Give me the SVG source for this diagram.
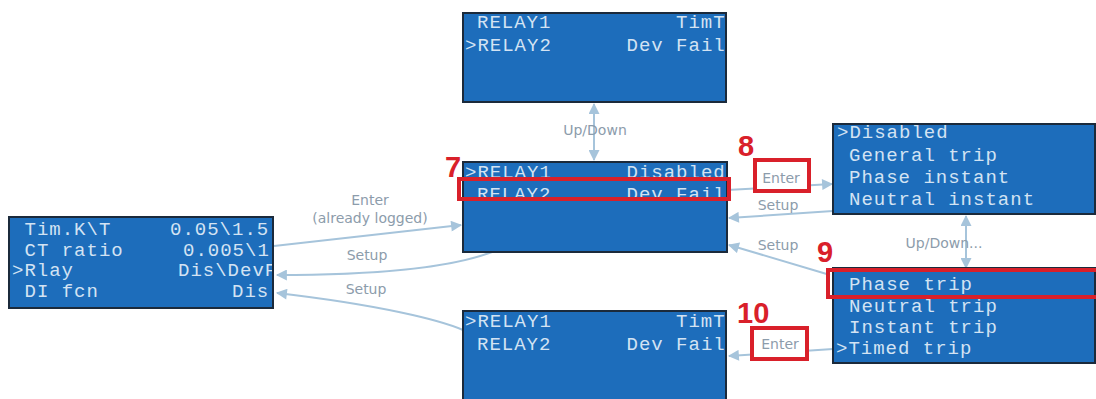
<svg xmlns="http://www.w3.org/2000/svg" width="1096" height="399" viewBox="0 0 1096 399">
<style>
.bx{fill:#1d6dbb}
.bd{fill:none;stroke:#1b2a3b;stroke-width:2}
.lcd{font-family:"Liberation Mono","DejaVu Sans Mono",monospace;font-size:19px;letter-spacing:1px;fill:#d3e3f3}
.cn{fill:none;stroke:#a6c4db;stroke-width:2}
.lb{font-family:"DejaVu Sans","Liberation Sans",sans-serif;font-size:14px;fill:#8c9cab;text-anchor:middle}
.red{fill:#fff;stroke:#d9202a;stroke-width:4}
.redt{fill:none;stroke:#d9202a;stroke-width:4}
.num{font-family:"Liberation Sans",Arial,sans-serif;font-weight:bold;font-size:29px;fill:#d9202a}
</style>
<defs>
<marker id="ah" viewBox="0 0 10 10" refX="9" refY="5" markerWidth="12" markerHeight="11" markerUnits="userSpaceOnUse" orient="auto-start-reverse">
<path d="M0,0 L10,5 L0,10 z" fill="#a6c4db"/>
</marker>
<clipPath id="cL"><rect x="9" y="217" width="264" height="91"/></clipPath>
<clipPath id="cT"><rect x="463" y="13" width="263" height="89"/></clipPath>
<clipPath id="cM"><rect x="463" y="162" width="264" height="90"/></clipPath>
<clipPath id="cB"><rect x="463" y="311" width="263" height="90"/></clipPath>
<clipPath id="cR1"><rect x="833" y="124" width="262" height="90"/></clipPath>
<clipPath id="cR2"><rect x="833" y="268" width="262" height="95"/></clipPath>
</defs>
<rect width="1096" height="399" fill="#fff"/>

<g id="connectors">
<path class="cn" d="M274 246 L461 225" marker-end="url(#ah)"/>
<path class="cn" d="M492 252 C450 268 380 275 277 275" marker-end="url(#ah)"/>
<path class="cn" d="M463 330 C440 320 380 305 277 293" marker-end="url(#ah)"/>
<path class="cn" d="M594 104 L594 160" marker-start="url(#ah)" marker-end="url(#ah)"/>
<path class="cn" d="M727 190 L832 184" marker-end="url(#ah)"/>
<path class="cn" d="M833 211 L729 218" marker-end="url(#ah)"/>
<path class="cn" d="M830 275 L729 245" marker-end="url(#ah)"/>
<path class="cn" d="M966 216 L966 268" marker-start="url(#ah)" marker-end="url(#ah)"/>
<path class="cn" d="M833 349 L729 356" marker-end="url(#ah)"/>
<text class="lb" x="370" y="205">Enter</text>
<text class="lb" x="370" y="223">(already logged)</text>
<text class="lb" x="367" y="260">Setup</text>
<text class="lb" x="366" y="294">Setup</text>
<text class="lb" x="595" y="135">Up/Down</text>
<text class="lb" x="778" y="210">Setup</text>
<text class="lb" x="778" y="250">Setup</text>
<text class="lb" x="944" y="248">Up/Down...</text>
</g>

<g id="node-left">
<rect class="bx" x="9" y="217" width="264" height="91"/>
<g clip-path="url(#cL)" class="lcd">
<text x="24.5" y="235">Tim.K\T</text><text x="170" y="235">0.05\1.5</text>
<text x="24.5" y="255.5">CT ratio</text><text x="183" y="255.5">0.005\1</text>
<text x="12" y="276">&gt;Rlay</text><text x="178" y="276">Dis\DevF</text>
<text x="24.5" y="297">DI fcn</text><text x="232" y="297">Dis</text>
</g>
<rect class="bd" x="9" y="217" width="264" height="91"/>
</g>

<g id="node-top">
<rect class="bx" x="463" y="13" width="263" height="89"/>
<g clip-path="url(#cT)" class="lcd">
<text x="477" y="28">RELAY1</text><text x="676" y="28">TimT</text>
<text x="465" y="51">&gt;RELAY2</text><text x="626.5" y="51">Dev Fail</text>
</g>
<rect class="bd" x="463" y="13" width="263" height="89"/>
</g>

<g id="node-middle">
<rect class="bx" x="463" y="162" width="264" height="90"/>
<g clip-path="url(#cM)" class="lcd">
<text x="465" y="178">&gt;RELAY1</text><text x="626.5" y="178">Disabled</text>
<text x="477" y="200">RELAY2</text><text x="626.5" y="200">Dev Fail</text>
</g>
<rect class="bd" x="463" y="162" width="264" height="90"/>
</g>

<g id="node-bottom">
<rect class="bx" x="463" y="311" width="263" height="90"/>
<g clip-path="url(#cB)" class="lcd">
<text x="465" y="327">&gt;RELAY1</text><text x="676" y="327">TimT</text>
<text x="477" y="350">RELAY2</text><text x="626.5" y="350">Dev Fail</text>
</g>
<rect class="bd" x="463" y="311" width="263" height="90"/>
</g>

<g id="node-right-top">
<rect class="bx" x="833" y="124" width="262" height="90"/>
<g clip-path="url(#cR1)" class="lcd">
<text x="837" y="138">&gt;Disabled</text>
<text x="849" y="161">General trip</text>
<text x="849" y="183">Phase instant</text>
<text x="849" y="205">Neutral instant</text>
</g>
<rect class="bd" x="833" y="124" width="262" height="90"/>
</g>

<g id="node-right-bottom">
<rect class="bx" x="833" y="268" width="262" height="95"/>
<g clip-path="url(#cR2)" class="lcd">
<text x="849" y="290">Phase trip</text>
<text x="849" y="311.5">Neutral trip</text>
<text x="849" y="333">Instant trip</text>
<text x="836" y="354">&gt;Timed trip</text>
</g>
<rect class="bd" x="833" y="268" width="262" height="95"/>
</g>

<g id="highlights">
<rect class="redt" x="459" y="179" width="270" height="20"/>
<rect class="redt" x="828" y="270" width="270" height="27"/>
<rect class="red" x="755" y="160" width="54" height="31"/>
<text class="lb" x="781" y="183">Enter</text>
<rect class="red" x="752" y="328" width="55" height="31"/>
<text class="lb" x="780" y="349">Enter</text>
<text class="num" x="445" y="177">7</text>
<text class="num" x="738" y="156">8</text>
<text class="num" x="817" y="262">9</text>
<text class="num" x="737" y="323">10</text>
</g>
</svg>
